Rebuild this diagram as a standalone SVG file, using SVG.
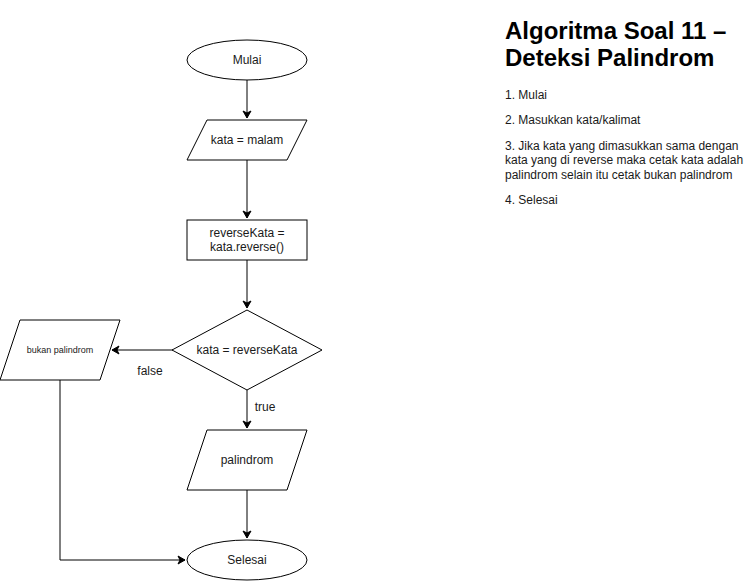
<svg xmlns="http://www.w3.org/2000/svg" width="751" height="581" viewBox="0 0 751 581">
<style>
.s{fill:#fff;stroke:#000;stroke-width:1}
.c{fill:none;stroke:#000;stroke-width:1}
text{font-family:"Liberation Sans",Arial,sans-serif;fill:#1a1a1a}
.t{font-size:12px;text-anchor:middle}
.h{font-size:24px;font-weight:bold;fill:#000}
.p{font-size:12px}
</style>
<defs>
<marker id="a" markerWidth="10" markerHeight="10" refX="8" refY="5" orient="auto" markerUnits="userSpaceOnUse">
<path d="M1,1 L8,5 L1,9 L3,5 Z" fill="#000" stroke="#000"/>
</marker>
</defs>
<rect width="751" height="581" fill="#fff"/>
<g id="connectors">
<path class="c" d="M247,80 V118" marker-end="url(#a)"/>
<path class="c" d="M247,160 V218" marker-end="url(#a)"/>
<path class="c" d="M247,260 V308" marker-end="url(#a)"/>
<path class="c" d="M173,350 H112" marker-end="url(#a)"/>
<path class="c" d="M247,390 V428" marker-end="url(#a)"/>
<path class="c" d="M247,490 V538" marker-end="url(#a)"/>
<path class="c" d="M60,380 V560 H185" marker-end="url(#a)"/>
<text class="t" x="150" y="375">false</text>
<text class="t" x="265" y="411">true</text>
</g>
<g id="mulai">
<ellipse class="s" cx="247" cy="60" rx="60" ry="20"/>
<text class="t" x="247" y="64">Mulai</text>
</g>
<g id="input">
<polygon class="s" points="207,120 307,120 287,160 187,160"/>
<text class="t" x="247" y="144">kata = malam</text>
</g>
<g id="reverse">
<rect class="s" x="187" y="220" width="120" height="40"/>
<text class="t" x="247" y="237">reverseKata =</text>
<text class="t" x="247" y="251">kata.reverse()</text>
</g>
<g id="decision">
<polygon class="s" points="247,310 322,350 247,390 172,350"/>
<text class="t" x="247" y="354">kata = reverseKata</text>
</g>
<g id="bukan">
<polygon class="s" points="20,320 120,320 100,380 0,380"/>
<text class="t" x="60" y="353" style="font-size:9px">bukan palindrom</text>
</g>
<g id="palindrom">
<polygon class="s" points="207,430 307,430 287,490 187,490"/>
<text class="t" x="247" y="464">palindrom</text>
</g>
<g id="selesai">
<ellipse class="s" cx="247" cy="560" rx="60" ry="20"/>
<text class="t" x="247" y="564">Selesai</text>
</g>
<g id="description">
<text class="h" x="505" y="39">Algoritma Soal 11 –</text>
<text class="h" x="505" y="66">Deteksi Palindrom</text>
<text class="p" x="505" y="99">1. Mulai</text>
<text class="p" x="505" y="124">2. Masukkan kata/kalimat</text>
<text class="p" x="505" y="150">3. Jika kata yang dimasukkan sama dengan</text>
<text class="p" x="505" y="164">kata yang di reverse maka cetak kata adalah</text>
<text class="p" x="505" y="179">palindrom selain itu cetak bukan palindrom</text>
<text class="p" x="505" y="204">4. Selesai</text>
</g>
</svg>
